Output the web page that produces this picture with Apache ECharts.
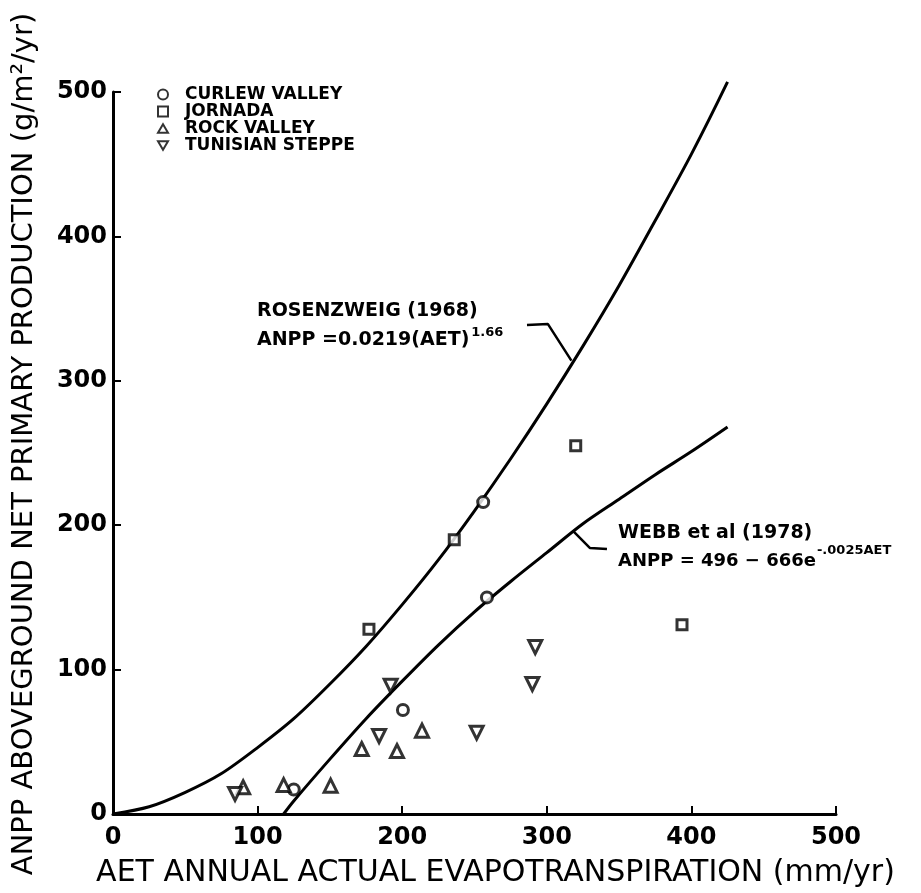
<!DOCTYPE html>
<html>
<head>
<meta charset="utf-8">
<script src="https://cdn.jsdelivr.net/npm/echarts@6/dist/echarts.min.js"></script>
<style>
html,body{margin:0;padding:0;background:#fff;}
#main{width:921px;height:893px;}
</style>
</head>
<body>
<div id="main"></div>
<script>
// ---- data ----
const curlewValley = [[125,17],[200.5,72],[256,216],[258.6,150]];
const jornada = [[177,128],[236,190],[320,255],[393.5,131]];
const rockValley = [[90,18.5],[118,20],[150.5,19.6],[172,45],[196.4,43.6],[213.7,57.7]];
const tunisianSteppe = [[84.4,13.9],[184,54],[192,88.8],[251.5,56.3],[290,90],[292,115.6]];
// curves
const rosenzweigCurve = [[0,0],[25,5],[50,15],[75,28],[100,46],[125,66],[150,90],[175,116],[200,145],[225,176],[250,210],[275,246],[300,284],[325,324],[350,366],[375,411],[400,457],[425,507]];
const webbCurve = [[118,0],[125,9],[150,38],[175,66],[200,92],[225,117],[250,140],[275,161],[300,181],[325,201],[350,218],[375,235],[400,251],[425,268]];
// annotation leader lines (data coordinates)
const rosenzweigLeader = [[286.3,338.6],[300.8,339.3],[317,314]];
const webbLeader = [[318.1,196],[329.9,184.2],[341.6,183.5]];
const xTicks = [0,100,200,300,400,500];
const yTicks = [0,100,200,300,400,500];
const seriesNames = ['CURLEW VALLEY','JORNADA','ROCK VALLEY','TUNISIAN STEPPE'];

const FONT = 'DejaVu Sans';
const TRI = 'path://M5,0L10,8.66L0,8.66Z';
const INV = 'path://M0,0L10,0L5,8.66Z';
const mk = {color:'#fff', borderColor:'#000', borderWidth:3};

const chart = echarts.init(document.getElementById('main'), null, {renderer:'canvas'});
function scatter(name, data, symbol, size){
  return {type:'scatter', name, data, symbol, symbolSize:size, itemStyle:mk, z:5};
}
function line(data, w){
  return {type:'line', data, showSymbol:false, symbol:'none', smooth:0.3, clip:false, silent:true,
    lineStyle:{color:'#000', width:w}, z:3};
}
const axisCommon = {
  min:0, max:500, interval:100,
  axisLine:{show:true, lineStyle:{color:'#000', width:3}},
  axisTick:{show:true, inside:true, length:8, lineStyle:{color:'#000', width:2}},
  splitLine:{show:false},
  axisLabel:{color:'#000', fontFamily:FONT, fontWeight:'bold', fontSize:24}
};
const annot = {fontFamily:FONT, fontWeight:'bold', fontSize:19, fill:'#000'};
chart.setOption({
  animation:false,
  backgroundColor:'#fff',
  grid:{left:113, right:85, top:92, bottom:79, containLabel:false},
  xAxis: Object.assign({}, axisCommon, {
    type:'value',
    axisLabel:Object.assign({}, axisCommon.axisLabel, {margin:12, formatter:v=>xTicks.includes(v)?String(v):''}),
    name:'AET ANNUAL ACTUAL EVAPOTRANSPIRATION (mm/yr)',
    nameLocation:'middle', nameGap:44,
    nameTextStyle:{color:'#000', fontFamily:FONT, fontSize:30, padding:[0,0,0,42]}
  }),
  yAxis: Object.assign({}, axisCommon, {
    type:'value',
    axisLabel:Object.assign({}, axisCommon.axisLabel, {margin:6, formatter:v=>yTicks.includes(v)?String(v):''}),
    name:'ANPP ABOVEGROUND NET PRIMARY PRODUCTION (g/m²/yr)',
    nameLocation:'middle', nameGap:74,
    nameTextStyle:{color:'#000', fontFamily:FONT, fontSize:29, padding:[0,0,0,18]}
  }),
  legend:{
    data:seriesNames, orient:'vertical', left:152, top:81,
    itemWidth:10, itemHeight:10, itemGap:0,
    textStyle:{color:'#000', fontFamily:FONT, fontWeight:'bold', fontSize:17, lineHeight:16, padding:[0,0,0,12]}
  },
  graphic:[
    {type:'text', left:257, top:302, style:Object.assign({text:'ROSENZWEIG (1968)'}, annot)},
    {type:'text', left:257, top:326, style:{
      text:'{m|ANPP =0.0219(AET)}{s|1.66}',
      rich:{m:Object.assign({}, annot, {verticalAlign:'bottom', lineHeight:24}), s:{fontFamily:FONT, fontWeight:'bold', fontSize:13, fill:'#000', verticalAlign:'top', lineHeight:24, padding:[0,0,0,2]}}
    }},
    {type:'text', left:618, top:524, style:Object.assign({text:'WEBB et al (1978)'}, annot)},
    {type:'text', left:618, top:544, style:{
      text:'{m|ANPP = 496 − 666e}{s|-.0025AET}',
      rich:{m:Object.assign({}, annot, {fontSize:18, verticalAlign:'bottom', lineHeight:26}), s:{fontFamily:FONT, fontWeight:'bold', fontSize:13, fill:'#000', verticalAlign:'top', lineHeight:26, padding:[0,0,0,1]}}
    }}
  ],
  series:[
    line(rosenzweigCurve, 3),
    line(webbCurve, 3),
    Object.assign(line(rosenzweigLeader, 2.5), {smooth:false}),
    Object.assign(line(webbLeader, 2.5), {smooth:false}),
    scatter('CURLEW VALLEY', curlewValley, 'circle', 11),
    scatter('JORNADA', jornada, 'rect', 10),
    scatter('ROCK VALLEY', rockValley, TRI, 13),
    scatter('TUNISIAN STEPPE', tunisianSteppe, INV, 13)
  ]
});
</script>
</body>
</html>
